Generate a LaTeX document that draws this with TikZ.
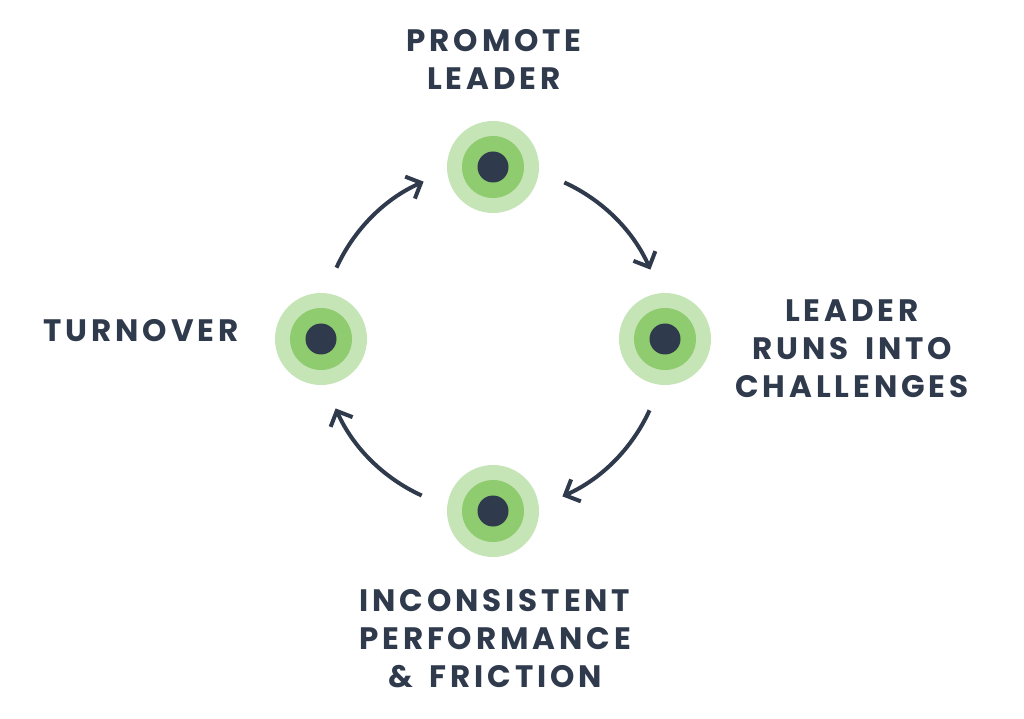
\documentclass[tikz,border=0pt]{standalone}
\usepackage{fontspec}
\newfontfamily\labfont{Poppins}[LetterSpace=12.5, WordSpace=1.6]
\usetikzlibrary{arrows.meta,calc}
\definecolor{ink}{HTML}{2F3A4C}
\definecolor{gouter}{HTML}{C6E5B6}
\definecolor{gmid}{HTML}{8FCB6F}
\begin{document}
\begin{tikzpicture}[x=1pt,y=1pt,
  stage/.style={circle, fill=gouter, minimum size=92pt, inner sep=0pt,
    path picture={\fill[gmid] (path picture bounding box.center) circle (31pt);
                  \fill[ink] (path picture bounding box.center) circle (15.5pt);}},
  lab/.style={font=\labfont\bfseries\fontsize{31}{38}\selectfont, text=ink, align=center, anchor=base, inner sep=0pt},
  arr/.style={draw=ink, line width=4pt, -{Straight Barb[length=12pt,width=24pt]}}]
\useasboundingbox (0,0) rectangle (1024,718);
\coordinate (C) at (493,379);
\node[stage] (top) at (493,551) {};
\node[stage] (right) at (665,379) {};
\node[stage] (bottom) at (493,207) {};
\node[stage] (left) at (321,379) {};
\node[lab] (ltop) at (494,628) {PROMOTE\\LEADER};
\node[lab] (lright) at (852,320) {LEADER\\RUNS INTO\\CHALLENGES};
\node[lab] (lleft) at (141,376.5) {TURNOVER};
\node[lab] (lbottom) at (495,31) {INCONSISTENT\\PERFORMANCE\\\& FRICTION};
\foreach \a/\n in {0/1,90/2,180/3,270/4}{
  \coordinate (s\n) at ($(C)+(\a+65.5:172)$);
  \draw[arr] (s\n) arc[start angle=\a+65.5, end angle=\a+23.8, radius=172];
}
\end{tikzpicture}
\end{document}
